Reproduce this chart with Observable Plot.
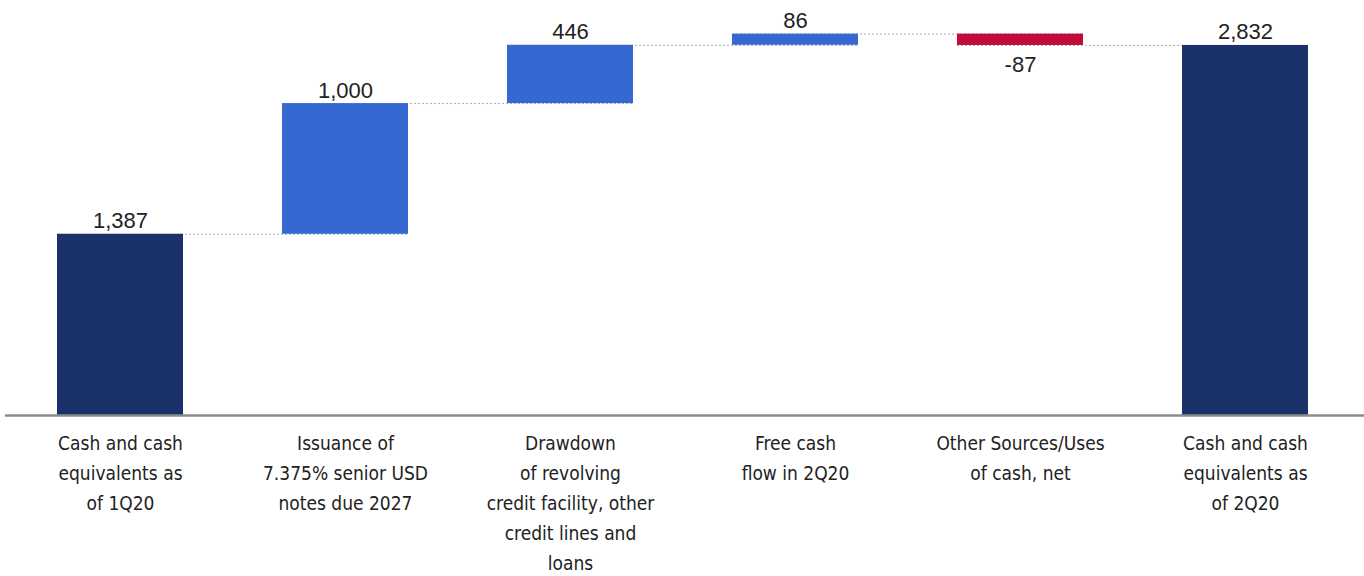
<!DOCTYPE html>
<html>
<head>
<meta charset="utf-8">
<script src="https://cdn.jsdelivr.net/npm/d3@7"></script>
<script src="https://cdn.jsdelivr.net/npm/@observablehq/plot@0.6"></script>
<style>
  html, body { margin: 0; padding: 0; background: #fff; }
</style>
</head>
<body>
<div id="chart"></div>
<script>
const categories = [
  "Cash and cash\nequivalents as\nof 1Q20",
  "Issuance of\n7.375% senior USD\nnotes due 2027",
  "Drawdown\nof revolving\ncredit facility, other\ncredit lines and\nloans",
  "Free cash\nflow in 2Q20",
  "Other Sources/Uses\nof cash, net",
  "Cash and cash\nequivalents as\nof 2Q20"
];
const values = [1387, 1000, 446, 86, -87, 2832];
const kinds = ["total", "up", "up", "up", "down", "total"];
const valueLabels = ["1,387", "1,000", "446", "86", "-87", "2,832"];

const colors = { total: "#1a3169", up: "#3668d1", down: "#c30b3b" };

// build waterfall table
let running = 0;
const rows = categories.map((c, i) => {
  let y1, y2;
  if (kinds[i] === "total") { y1 = 0; y2 = values[i]; running = values[i]; }
  else { y1 = running; y2 = running + values[i]; running = y2; }
  return { cat: c, y1, y2, kind: kinds[i], label: valueLabels[i], value: values[i], end: running };
});
const connectors = rows.slice(0, -1).map((r, i) => ({ x1: r.cat, x2: rows[i + 1].cat, y: r.end }));

const chart = Plot.plot({
  width: 1364,
  height: 576,
  marginTop: 23,
  marginBottom: 161,
  marginLeft: 0,
  marginRight: 0,
  style: { fontFamily: "'Liberation Sans Narrow', 'DejaVu Sans Condensed', sans-serif", background: "#fff" },
  x: { domain: categories, paddingInner: 0.44, paddingOuter: 0.25, label: null },
  y: { domain: [0, 3000], axis: null },
  marks: [
    Plot.ruleY(connectors, { x1: "x1", x2: "x2", y: "y", stroke: "#aaaaaa", strokeWidth: 1, strokeDasharray: "2,2" }),
    Plot.barY(rows, { x: "cat", y1: "y1", y2: "y2", fill: (d) => colors[d.kind] }),
    Plot.text(rows.filter(d => d.value >= 0), {
      x: "cat", y: (d) => Math.max(d.y1, d.y2), text: "label",
      lineAnchor: "bottom", dy: -6, fontSize: 22, fill: "#222",
      fontFamily: "'Liberation Sans', Arial, sans-serif"
    }),
    Plot.text(rows.filter(d => d.value < 0), {
      x: "cat", y: (d) => Math.min(d.y1, d.y2), text: "label",
      lineAnchor: "top", dy: 11, fontSize: 22, fill: "#222",
      fontFamily: "'Liberation Sans', Arial, sans-serif"
    }),
    Plot.ruleY([0], { stroke: "#8c8c8c", strokeWidth: 2.5, insetLeft: 5 }),
    Plot.axisX({ tickSize: 0, tickPadding: 13, fontSize: 19, lineHeight: 1.58, fill: "#222", label: null })
  ]
});
document.getElementById("chart").appendChild(chart);
</script>
</body>
</html>
